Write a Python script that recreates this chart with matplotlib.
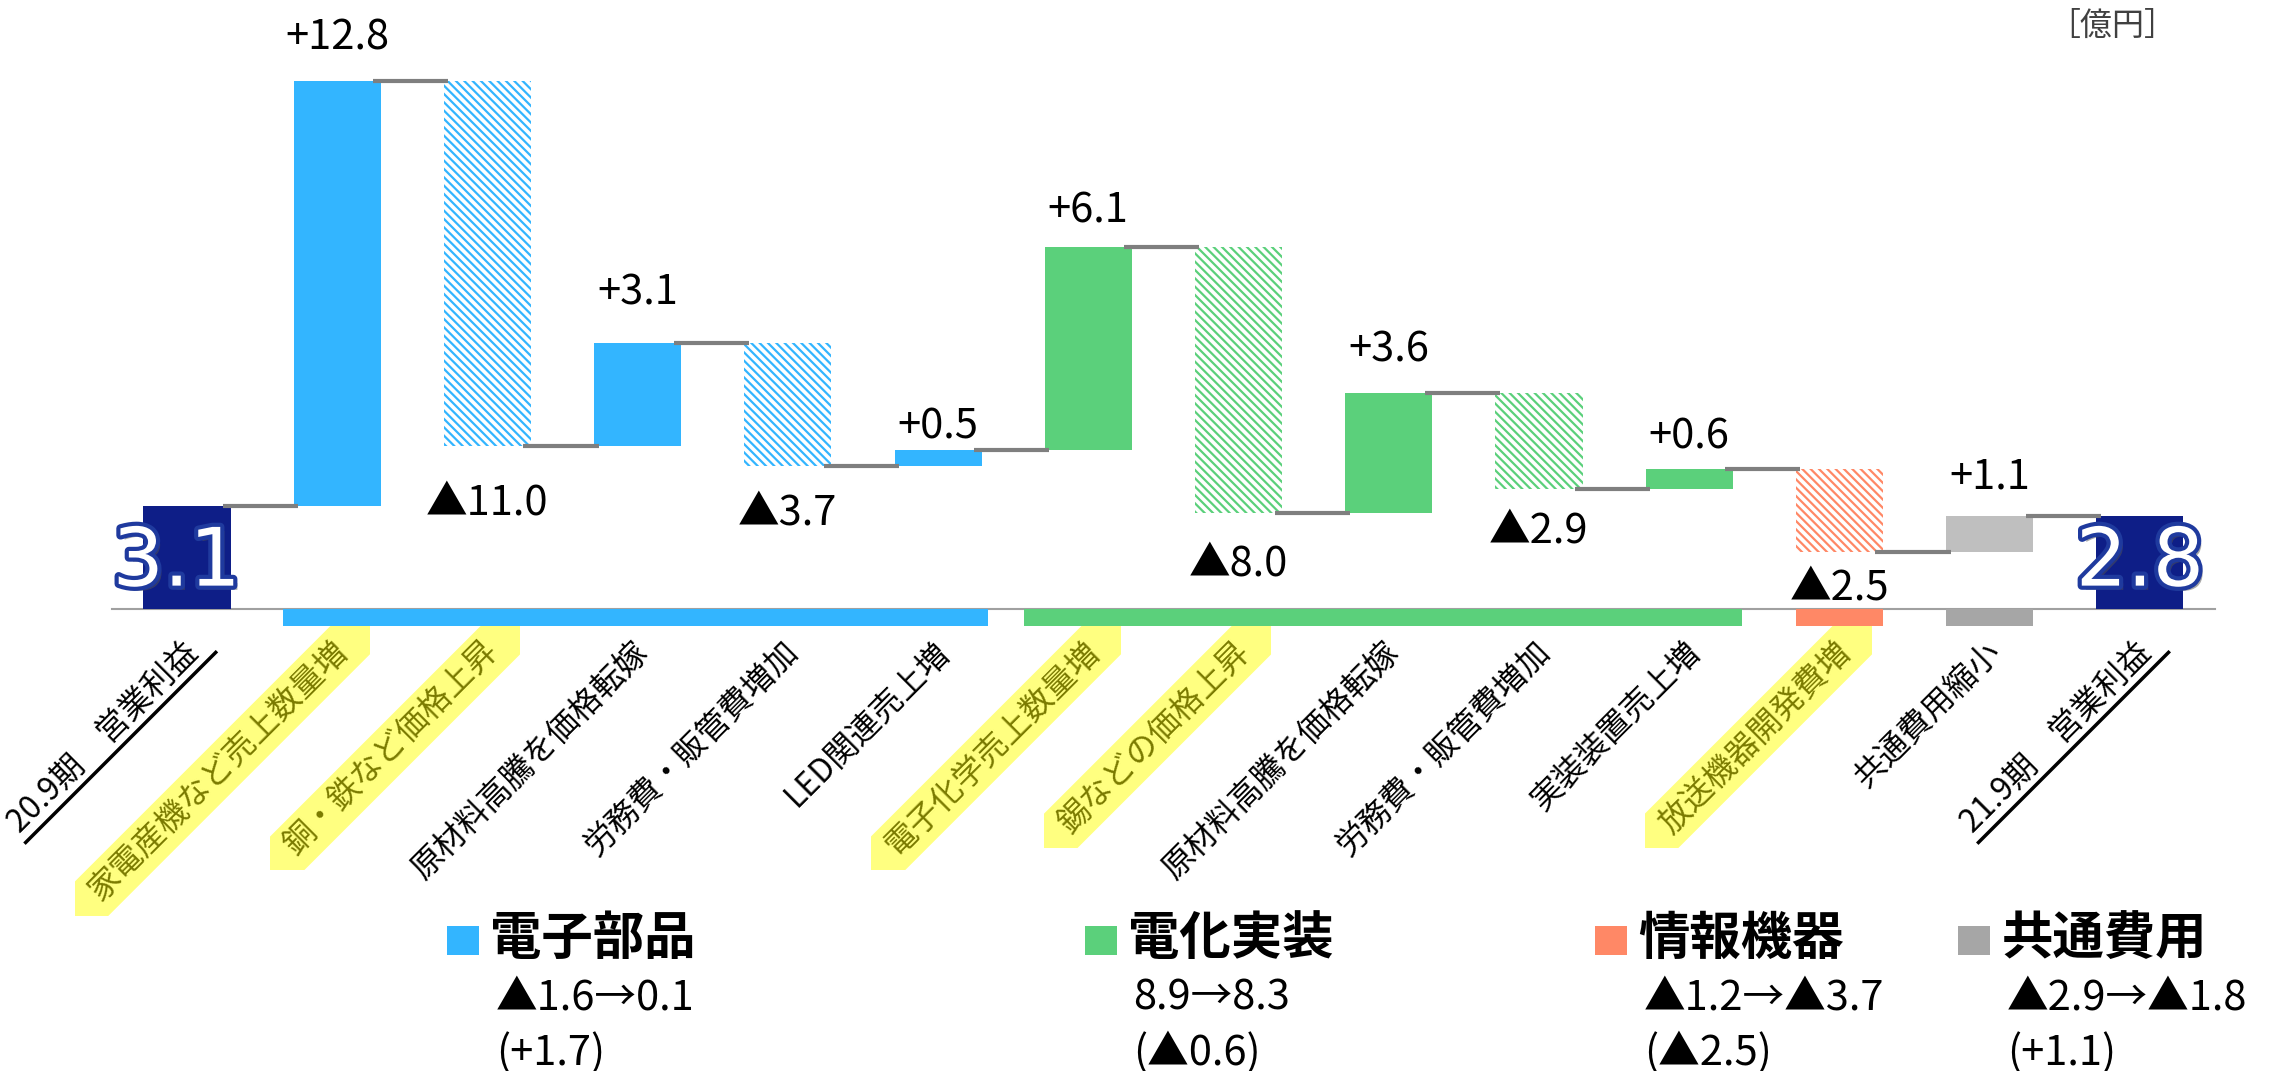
import numpy as np
import matplotlib
matplotlib.use('Agg')
import matplotlib.pyplot as plt
import matplotlib.patheffects as pe
from matplotlib.patches import Polygon, Rectangle
from matplotlib.transforms import Bbox

plt.rcParams['font.family'] = ['Noto Sans CJK JP', 'DejaVu Sans']
plt.rcParams['hatch.linewidth'] = 1.6

# データ（億円）
categories = ['20.9期　営業利益', '家電産機など売上数量増', '銅・鉄など価格上昇', '原材料高騰を価格転嫁',
              '労務費・販管費増加', 'LED関連売上増', '電子化学売上数量増', '錫などの価格上昇',
              '原材料高騰を価格転嫁', '労務費・販管費増加', '実装装置売上増', '放送機器開発費増',
              '共通費用縮小', '21.9期　営業利益']
start_value = 3.1
end_value = 2.8
deltas = [12.8, -11.0, 3.1, -3.7, 0.5, 6.1, -8.0, 3.6, -2.9, 0.6, -2.5, 1.1]
bar_segment = ['電子部品'] * 5 + ['電化実装'] * 5 + ['情報機器', '共通費用']
highlighted = [False, True, True, False, False, False, True, True, False, False, False, True, False, False]
underlined = [True] + [False] * 12 + [True]

segments = ['電子部品', '電化実装', '情報機器', '共通費用']
segment_change = ['▲1.6→0.1', '8.9→8.3', '▲1.2→▲3.7', '▲2.9→▲1.8']
segment_diff = ['(+1.7)', '(▲0.6)', '(▲2.5)', '(+1.1)']

# 色
seg_colors = {'電子部品': '#33B5FF', '電化実装': '#5BD07B', '情報機器': '#FF8866', '共通費用': '#A6A6A6'}
COMMON_BAR = '#BFBFBF'
NAVY = '#0E1E87'
CONNECTOR = '#7F7F7F'

# 数値ラベルの位置（pt）
label_offset = [23, -49, 28, -42, 8, 18, -45, 23, -38, 15, -34, 20]
strip_pad = {'電子部品': (0.36, 0.33), '電化実装': (0.43, 0.35), '情報機器': (0.29, 0.29), '共通費用': (0.29, 0.29)}


def fmt(v):
    return f'+{v:.1f}' if v >= 0 else f'▲{abs(v):.1f}'


fig = plt.figure(figsize=(22.69, 10.71), dpi=100)
ax = fig.add_axes([0, 0, 1, 1])
ax.set_xlim(-1.245, 13.86)
ax.set_ylim(-13.92, 18.34)
ax.axis('off')

n = len(categories)
x = np.arange(n)
W = 0.58
levels = np.concatenate([[start_value], start_value + np.cumsum(deltas)])

# 期首・期末
ax.bar([x[0], x[-1]], [start_value, end_value], W, color=NAVY, zorder=3)
big_fx = [pe.SimplePatchShadow(offset=(3, -3), shadow_rgbFace='#555555', alpha=0.5),
          pe.Stroke(linewidth=6, foreground='#1F3A9E'), pe.Normal()]
for xi, v in [(x[0] - 0.07, start_value), (x[-1], end_value)]:
    ax.text(xi, 0.7, f'{v:.1f}', fontsize=58, family='DejaVu Sans', color='white',
            ha='center', va='baseline', zorder=6, path_effects=big_fx)

# 増減
for k, dv in enumerate(deltas):
    i = x[k + 1]
    base = levels[k]
    col = seg_colors[bar_segment[k]]
    if dv >= 0:
        fc = COMMON_BAR if bar_segment[k] == '共通費用' else col
        ax.bar(i, dv, W, bottom=base, color=fc, zorder=3)
    else:
        ax.bar(i, dv, W, bottom=base, facecolor='white', edgecolor=col,
               hatch='\\\\\\\\', linewidth=0, zorder=3)
    ax.annotate(fmt(dv), (i, base + dv), xytext=(0, label_offset[k]), textcoords='offset points',
                ha='center', va='baseline', fontsize=30, zorder=6)

# つなぎ線
for i in range(n - 1):
    ax.plot([x[i] + W / 2 - 0.05, x[i + 1] - W / 2 + 0.03], [levels[i], levels[i]],
            color=CONNECTOR, lw=3, solid_capstyle='butt', zorder=4)

# 軸線とセグメント帯
ax.plot([-0.5, n - 0.5], [0, 0], color='#A0A0A0', lw=1.5, zorder=2)
for seg in segments:
    idx = [k + 1 for k, s in enumerate(bar_segment) if s == seg]
    pl, pr = strip_pad[seg]
    x0, x1 = idx[0] - pl, idx[-1] + pr
    ax.bar(x0, -0.51, width=x1 - x0, align='edge', color=seg_colors[seg], zorder=3)

# 項目ラベル
fig.canvas.draw()
renderer = fig.canvas.get_renderer()
th = np.deg2rad(45)
d = np.array([np.cos(th), np.sin(th)])
nv = np.array([-np.sin(th), np.cos(th)])
LAB_FS = 23
for i, lab in enumerate(categories):
    anchor = (x[i] + 0.04, -1.15)
    col = '#7A7A00' if highlighted[i] else 'black'
    ax.text(*anchor, lab, fontsize=LAB_FS, rotation=45, rotation_mode='anchor',
            ha='right', va='center', color=col, zorder=5)
    if not (highlighted[i] or underlined[i]):
        continue
    tmp = ax.text(0, 0, lab, fontsize=LAB_FS)
    bb = tmp.get_window_extent(renderer)
    tmp.remove()
    L, h = bb.width, bb.height
    p = ax.transData.transform(anchor)
    inv = ax.transData.inverted()
    if underlined[i]:
        off = h * 0.62
        pts = np.array([p + 14 * d - off * nv, p - (L + 4) * d - off * nv])
        pts = inv.transform(pts)
        ax.plot(pts[:, 0], pts[:, 1], color='black', lw=2.5, solid_capstyle='butt', zorder=5)
    if highlighted[i]:
        pad_lo, pad_hi, pp = 4, 14, 8
        corners = np.array([p + a * d + b * nv for a in (-L - pad_lo, pad_hi) for b in (-h / 2 - pp, h / 2 + pp)])
        clip = Bbox([corners.min(axis=0), corners.max(axis=0)])
        band = np.array([p + a * d + b * nv for a, b in
                         [(-L - 400, -h / 2 - pp), (400, -h / 2 - pp), (400, h / 2 + pp), (-L - 400, h / 2 + pp)]])
        poly = Polygon(inv.transform(band), closed=True, facecolor='#FFFF80', edgecolor='none', zorder=1)
        ax.add_patch(poly)
        poly.set_clip_box(clip)

# 単位
fig.text(0.959, 0.991, '［億円］', ha='right', va='top', fontsize=23, color='#404040')

# 凡例
legend_x = [0.197, 0.478, 0.703, 0.863]
for lx, seg, l1, l2 in zip(legend_x, segments, segment_change, segment_diff):
    fig.patches.append(Rectangle((lx, 0.108), 0.0141, 0.027, transform=fig.transFigure,
                                 facecolor=seg_colors[seg], edgecolor='none'))
    fig.text(lx + 0.019, 0.124, seg, fontsize=37, fontweight='bold', va='center', ha='left')
    fig.text(lx + 0.0215, 0.068, l1, fontsize=30, va='center', ha='left')
    fig.text(lx + 0.0215, 0.017, l2, fontsize=30, va='center', ha='left')

fig.savefig('out.png', dpi=100)
